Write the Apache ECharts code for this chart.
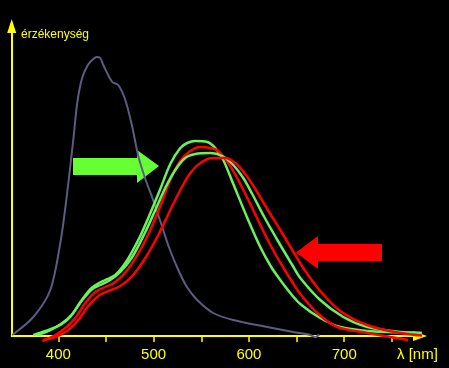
<!DOCTYPE html>
<html>
<head>
<meta charset="utf-8">
<script src="https://cdn.jsdelivr.net/npm/echarts@6/dist/echarts.min.js"></script>
<style>
html,body{margin:0;padding:0;background:#000;}
#c{width:449px;height:368px;}
</style>
</head>
<body>
<div id="c"></div>
<script>
// Data (wavelength in nm, relative sensitivity)
const grayX = [351.7, 373.8, 391.6, 402.1, 408.4, 415.7, 420.0, 425.0, 431.0, 436.7, 440.5, 444.0, 447.2, 456.6, 462.9, 470.3, 477.6, 483.9, 491.3, 498.0, 507.0, 516.0, 525.9, 535.0, 545.8, 562.6, 583.6, 619.2, 646.5, 664.3, 669.6, 673.8];
const grayY = [1, 19, 46, 93, 136, 196, 234, 258, 271, 277, 279, 278, 271, 254, 251, 236, 209, 180, 157, 140, 115, 89, 66, 49, 36, 23, 16, 9, 4, 1, -1.3, 1.5];

const green1X = [373.8, 386.4, 402.1, 412.6, 423.1, 433.6, 440.9, 449.3, 459.8, 472.4, 486.0, 494.4, 507.0, 517.5, 528.0, 535.3, 543.7, 556.3, 564.7, 573.1, 583.6, 598.3, 611.9, 623.4, 632.9, 643.4, 653.9, 674.8, 695.8, 724.1, 758.8, 787.1];
const green1Y = [1, 5, 11, 19, 34, 47, 52, 56, 61, 76, 100, 118, 147, 172, 188, 193, 195, 194, 188, 176, 152, 118, 89, 69, 56, 43, 32, 18, 9, 5, 3.5, 3];

const red1X = [383.2, 396.9, 407.3, 417.8, 428.3, 438.8, 449.3, 459.8, 472.4, 486.0, 496.5, 507.0, 517.5, 528.0, 538.5, 549.0, 559.4, 567.8, 578.3, 588.8, 601.4, 615.0, 627.6, 637.0, 645.5, 653.9, 671.7, 692.7, 724.1, 748.3, 767.0];
const red1Y = [-5, 1, 8, 18, 33, 44, 49, 54, 66, 86, 106, 130, 156, 175, 185, 189, 188, 185, 173, 156, 132, 105, 82, 67, 54, 42, 23, 9, 3, -1, -4];

const green2X = [378.0, 391.6, 404.2, 414.7, 425.2, 435.7, 444.1, 454.5, 465.0, 477.6, 491.3, 501.8, 512.2, 522.7, 533.2, 543.7, 559.4, 572.0, 583.6, 594.1, 603.5, 616.1, 632.9, 645.5, 653.9, 674.8, 699.0, 724.1, 758.8, 787.1];
const green2Y = [1, 6, 13, 22, 36, 47, 51, 56, 64, 79, 104, 126, 148, 166, 178, 182, 183, 180, 171, 158, 142, 119, 91, 71, 58, 36, 19, 9, 4, 3];

const red2X = [384.3, 396.9, 410.5, 421.0, 431.5, 442.0, 452.5, 465.0, 477.6, 491.3, 504.9, 517.5, 528.0, 538.5, 549.0, 561.5, 575.2, 585.7, 596.2, 606.7, 619.2, 632.9, 645.5, 657.0, 674.8, 695.8, 724.1, 758.8, 800.7];
const red2Y = [-4, -1, 6, 16, 30, 40, 45, 50, 60, 78, 101, 126, 146, 163, 173, 178, 178, 173, 162, 147, 127, 106, 86, 68, 45, 25, 11, 3, -1];

const tickValues = [400, 450, 500, 550, 600, 650, 700, 750];
const labelValues = [400, 500, 600, 700];
const yTitle = 'érzékenység';
const xTitle = 'λ [nm]';

const zip = (xs, ys) => xs.map((x, i) => [x, ys[i]]);
const YEL = '#ffff00';
const FONT = 'Liberation Sans, Arial, sans-serif';

function line(name, xs, ys, color, width) {
  return {
    name, type: 'line', data: zip(xs, ys), showSymbol: false, symbol: 'none',
    smooth: 0.3, clip: false, silent: true,
    lineStyle: { color, width }
  };
}

const chart = echarts.init(document.getElementById('c'), null, { renderer: 'canvas' });
chart.setOption({
  backgroundColor: '#000',
  animation: false,
  grid: { left: 11.7, right: 29, top: 26, bottom: 32, containLabel: false, outerBoundsMode: 'none' },
  xAxis: {
    type: 'value', min: 351.1, max: 779.5,
    axisLine: { show: true, onZero: true, lineStyle: { color: YEL, width: 2 }, symbol: ['none', 'triangle'], symbolSize: [10, 14] },
    axisTick: { show: true, length: 6, lineStyle: { color: YEL, width: 1.5 }, customValues: tickValues },
    axisLabel: { color: YEL, fontSize: 15, fontFamily: FONT, margin: 11, customValues: labelValues },
    splitLine: { show: false }
  },
  yAxis: {
    type: 'value', min: 0, max: 310,
    axisLine: { show: true, lineStyle: { color: YEL, width: 2 }, symbol: ['none', 'triangle'], symbolSize: [9, 14] },
    axisTick: { show: false }, axisLabel: { show: false }, splitLine: { show: false }
  },
  series: [
    line('gray', grayX, grayY, '#5c5c80', 2),
    line('green1', green1X, green1Y, '#6af25e', 2.5),
    line('red1', red1X, red1Y, '#ff0000', 2.5),
    line('green2', green2X, green2Y, '#6af25e', 2.5),
    line('red2', red2X, red2Y, '#ff0000', 2.5)
  ],
  graphic: [
    { type: 'polygon', silent: true, shape: { points: [[73,158],[137,158],[137,150],[159,166],[137,183],[137,175],[73,175]] }, style: { fill: '#66ff33' } },
    { type: 'polygon', silent: true, shape: { points: [[382,244],[318,244],[318,236],[296,252.5],[318,269],[318,261],[382,261]] }, style: { fill: '#ff0000' } },
    { type: 'text', left: 21, top: 29, style: { text: yTitle, fill: YEL, font: '12px ' + FONT } },
    { type: 'text', left: 397, top: 347, style: { text: xTitle, fill: YEL, font: '15px ' + FONT } }
  ]
});
</script>
</body>
</html>
